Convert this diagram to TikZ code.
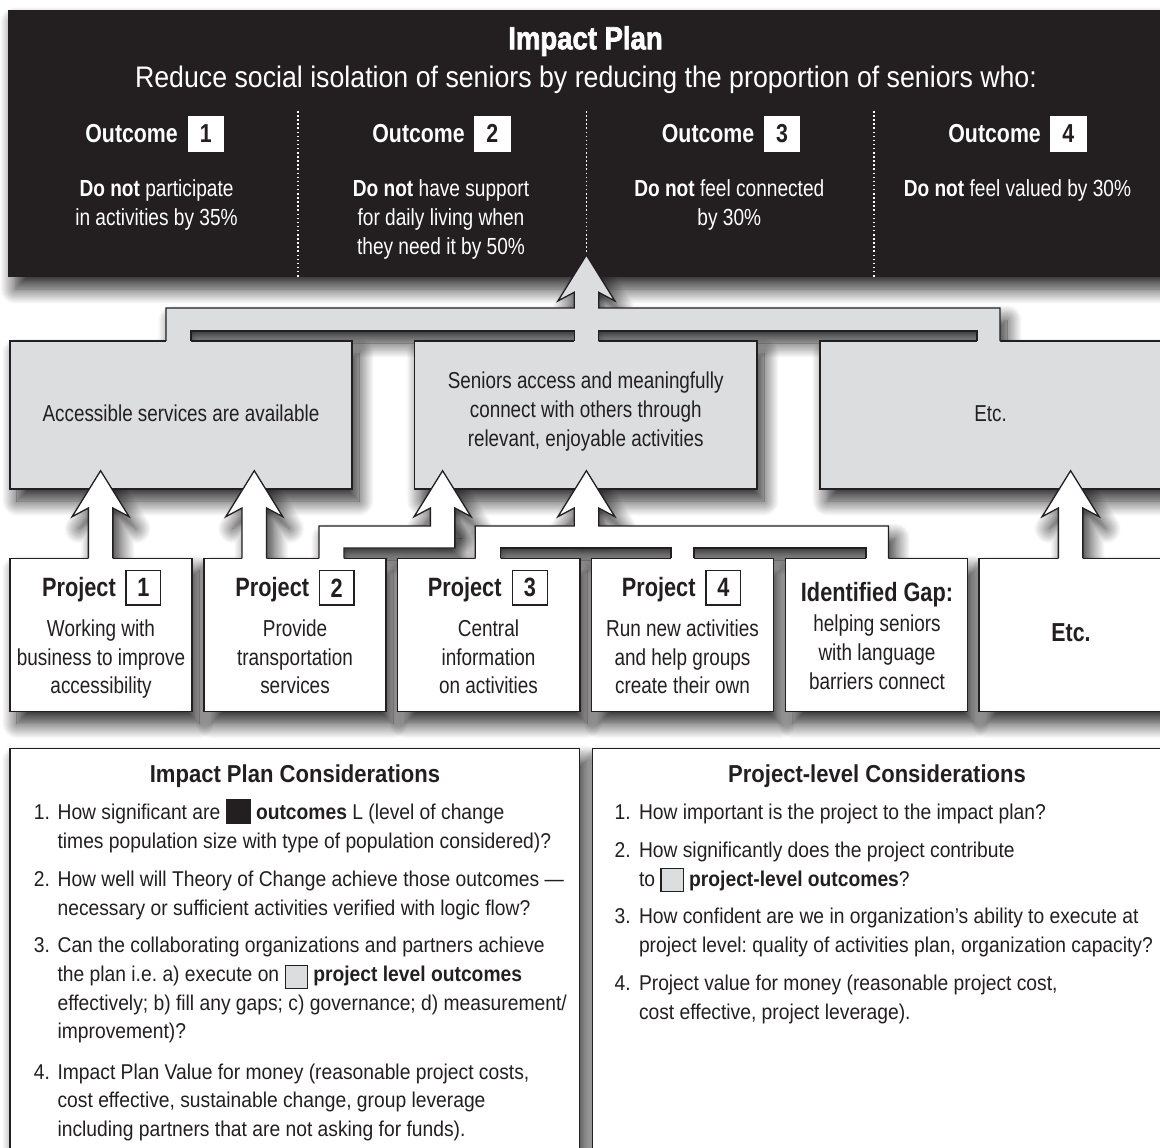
\documentclass[tikz,border=0pt]{standalone}
\usepackage{fontspec}
\setmainfont{Liberation Sans}[FakeStretch=0.82]
\newfontfamily\widefont{Liberation Sans}[FakeStretch=0.9]
\newfontfamily\heavyfont{Liberation Sans}[FakeStretch=0.86,BoldFeatures={FakeBold=2}]
\usetikzlibrary{shadows.blur}
\pgfdeclarelayer{bgl}
\pgfdeclarelayer{shadowl}
\pgfsetlayers{bgl,shadowl,main}
\definecolor{ink}{RGB}{35,31,32}
\definecolor{lgray}{RGB}{220,221,223}
\newcommand\myfs[1]{\fontsize{#1}{#1}\selectfont}
\tikzset{
 ol/.style={draw=ink,line width=1.3pt,line join=miter},
 shad/.style={blur shadow={shadow xshift=7pt,shadow yshift=-12pt,shadow blur radius=15pt,shadow blur steps=16,shadow opacity=85}},
 lbox/.style={ol,fill=lgray,anchor=north west,inner sep=0pt,outer sep=0pt},
 wbox/.style={ol,fill=white,anchor=north west,inner sep=0pt,outer sep=0pt},
 hdrbox/.style={fill=ink,anchor=north west,inner sep=0pt,outer sep=0pt},
 wtxt/.style={anchor=base,text=white,inner sep=0pt},
 txt/.style={anchor=base,text=ink,inner sep=0pt},
 ltxt/.style={anchor=base west,text=ink,inner sep=0pt,font=\widefont\myfs{21.4}},
 numw/.style={fill=white,text=ink,inner sep=0pt,minimum width=36.5pt,minimum height=35.7pt,font=\bfseries\myfs{26}},
 numb/.style={ol,fill=white,text=ink,inner sep=0pt,minimum width=34.7pt,minimum height=34.3pt,font=\bfseries\myfs{26.5}},
 divl/.style={white,line width=1.5pt,dash pattern=on 1.5pt off 2.6pt},
}
\newcommand\arrowpipe[4]{%
 \fill[#4] (#1,#2) -- (#1+28.5,#2+46) -- (#1+12.25,#2+37.3) -- (#1+12.25,#3+1.3) -- (#1-12.25,#3+1.3) -- (#1-12.25,#2+37.3) -- (#1-28.5,#2+46) -- cycle;
 \draw[ol] (#1-12.25,#3) -- (#1-12.25,#2+37.3) -- (#1-28.5,#2+46) -- (#1,#2) -- (#1+28.5,#2+46) -- (#1+12.25,#2+37.3) -- (#1+12.25,#3);}
\newcommand\arrowshadow[3]{%
 \path[shad] (#1,#2) -- (#1+28.5,#2+46) -- (#1+12.25,#2+37.3) -- (#1+12.25,#3) -- (#1-12.25,#3) -- (#1-12.25,#2+37.3) -- (#1-28.5,#2+46) -- cycle;}
\newcommand\swblack{\textcolor{ink}{\rule[-4.3pt]{25pt}{25pt}}}
\newcommand\swgray[1]{{\setlength\fboxsep{0pt}\setlength\fboxrule{1.2pt}\fcolorbox{ink}{lgray}{\rule[-#1]{0pt}{22pt}\hspace{21pt}}}}
\frenchspacing
\begin{document}
\frenchspacing
\begin{tikzpicture}[x=1pt,y=-1pt]
\useasboundingbox (0,0) rectangle (1160,1148);
\begin{pgfonlayer}{bgl}
\fill[white] (0,0) rectangle (1160,1148);
\end{pgfonlayer}
% dummy first shadow, outside the page
\path[shad] (-400,-400) rectangle (-380,-380);

% ---------- boxes ----------
\node[hdrbox,minimum width=1160pt,minimum height=267pt] (hdr) at (8,10) {};
\node[lbox,minimum width=342pt,minimum height=148pt] (bA) at (10,341) {};
\node[lbox,minimum width=342.5pt,minimum height=148pt] (bB) at (414.5,341) {};
\node[lbox,minimum width=345pt,minimum height=148pt] (bC) at (820,341) {};

\node[wbox,minimum width=182pt,minimum height=153.4pt] (p1) at (10,558.3) {};
\node[wbox,minimum width=182pt,minimum height=153.4pt] (p2) at (204,558.3) {};
\node[wbox,minimum width=182.5pt,minimum height=153.4pt] (p3) at (397.5,558.3) {};
\node[wbox,minimum width=182.2pt,minimum height=153.4pt] (p4) at (591.4,558.3) {};
\node[wbox,minimum width=181.8pt,minimum height=153.4pt] (pg) at (785.8,558.3) {};
\node[wbox,minimum width=190pt,minimum height=153.4pt] (pe) at (979,558.3) {};

\node[wbox,minimum width=569.5pt,minimum height=420pt] (cL) at (10,748.4) {};
\node[wbox,minimum width=580pt,minimum height=420pt] (cR) at (592.5,748.4) {};

% ---------- shadows ----------
\begin{pgfonlayer}{shadowl}
\path[shad] (-400,-400) rectangle (-380,-380);
\foreach \n in {hdr,bA,bB,bC,p1,p2,p3,p4,pg,pe,cL,cR}
  \path[shad] (\n.north west) rectangle (\n.south east);
\path[shad] (586.4,255) -- (614.9,301) -- (598.65,292.3) -- (598.65,308) -- (1000,308) -- (1000,341) -- (977,341) -- (977,331) -- (598.65,331) -- (598.65,341) -- (574.15,341) -- (574.15,331) -- (191,331) -- (191,341) -- (166,341) -- (166,308) -- (574.15,308) -- (574.15,292.3) -- (557.9,301) -- cycle;
\path[shad] (319,558.3) -- (319,526) -- (454.85,526) -- (454.85,548) -- (344,548) -- (344,558.3) -- cycle;
\path[shad] (475.3,558.3) -- (475.3,526) -- (888.4,526) -- (888.4,558.3) -- (866,558.3) -- (866,548) -- (500.5,548) -- (500.5,558.3) -- cycle;
\arrowshadow{100.6}{470.7}{558.3}
\arrowshadow{254.3}{470.7}{558.3}
\arrowshadow{442.6}{470.7}{526}
\arrowshadow{586.4}{470.7}{526}
\arrowshadow{1070.6}{470.7}{558.3}
\end{pgfonlayer}

% ---------- header content ----------
\draw[divl] (298,111) -- (298,277);
\draw[divl] (586.4,111) -- (586.4,277);
\draw[divl] (873.8,111) -- (873.8,277);

\node[wtxt,font=\heavyfont\bfseries\myfs{32}] (title) at (585.5,49.3) {Impact Plan};
\node[wtxt,font=\widefont\myfs{29.7}] (sub) at (586,87.3) {Reduce social isolation of seniors by reducing the proportion of seniors who:};

\node[wtxt,anchor=base east,font=\bfseries\myfs{26}] (oh1) at (178,142.7) {Outcome};
\node[numw] (on1) at (205.75,133.85) {1};
\node[wtxt,anchor=base east,font=\bfseries\myfs{26}] (oh2) at (465,142.7) {Outcome};
\node[numw] (on2) at (492.25,133.85) {2};
\node[wtxt,anchor=base east,font=\bfseries\myfs{26}] (oh3) at (754.5,142.7) {Outcome};
\node[numw] (on3) at (782,133.85) {3};
\node[wtxt,anchor=base east,font=\bfseries\myfs{26}] (oh4) at (1041,142.7) {Outcome};
\node[numw] (on4) at (1068.3,133.85) {4};

\node[wtxt,font=\myfs{23.3}] (o1a) at (156.5,196.7) {\textbf{Do not} participate};
\node[wtxt,font=\myfs{23.3}] (o1b) at (156.5,225.5) {in activities by 35\%};
\node[wtxt,font=\myfs{23.3}] (o2a) at (441,196.7) {\textbf{Do not} have support};
\node[wtxt,font=\myfs{23.3}] (o2b) at (441,225.5) {for daily living when};
\node[wtxt,font=\myfs{23.3}] (o2c) at (441,254.2) {they need it by 50\%};
\node[wtxt,font=\myfs{23.3}] (o3a) at (729.3,196.7) {\textbf{Do not} feel connected};
\node[wtxt,font=\myfs{23.3}] (o3b) at (729.3,225.5) {by 30\%};
\node[wtxt,font=\myfs{23.3}] (o4a) at (1017.4,196.7) {\textbf{Do not} feel valued by 30\%};

% ---------- top connector ----------
\fill[lgray] (586.4,255) -- (614.9,301) -- (598.65,292.3) -- (598.65,308) -- (1000,308) -- (1000,342.3) -- (977,342.3) -- (977,331) -- (598.65,331) -- (598.65,342.3) -- (574.15,342.3) -- (574.15,331) -- (191,331) -- (191,342.3) -- (166,342.3) -- (166,308) -- (574.15,308) -- (574.15,292.3) -- (557.9,301) -- cycle;
\draw[ol] (166,341) -- (166,308) -- (574.15,308) -- (574.15,292.3) -- (557.9,301) -- (586.4,255) -- (614.9,301) -- (598.65,292.3) -- (598.65,308) -- (1000,308) -- (1000,341);
\draw[ol] (191,341) -- (191,331) -- (574.15,331) -- (574.15,341);
\draw[ol] (598.65,341) -- (598.65,331) -- (977,331) -- (977,341);

% ---------- lower connectors ----------
\arrowpipe{100.6}{470.7}{558.3}{white}
\arrowpipe{254.3}{470.7}{558.3}{white}
\arrowpipe{1070.6}{470.7}{558.3}{white}

\fill[white] (442.6,470.7) -- (471.1,516.7) -- (454.85,508) -- (454.85,548) -- (344,548) -- (344,559.6) -- (319,559.6) -- (319,526) -- (430.35,526) -- (430.35,508) -- (414.1,516.7) -- cycle;
\draw[ol] (319,558.3) -- (319,526) -- (430.35,526) -- (430.35,508) -- (414.1,516.7) -- (442.6,470.7) -- (471.1,516.7) -- (454.85,508) -- (454.85,548) -- (344,548) -- (344,558.3);

\fill[white] (475.3,559.6) -- (475.3,526) -- (574.15,526) -- (574.15,508) -- (557.9,516.7) -- (586.4,470.7) -- (614.9,516.7) -- (598.65,508) -- (598.65,526) -- (888.4,526) -- (888.4,559.6) -- (866,559.6) -- (866,548) -- (694,548) -- (694,559.6) -- (671,559.6) -- (671,548) -- (500.5,548) -- (500.5,559.6) -- cycle;
\draw[ol] (475.3,558.3) -- (475.3,526) -- (574.15,526) -- (574.15,508) -- (557.9,516.7) -- (586.4,470.7) -- (614.9,516.7) -- (598.65,508) -- (598.65,526) -- (888.4,526) -- (888.4,558.3);
\draw[ol] (500.5,558.3) -- (500.5,548) -- (671,548) -- (671,558.3);
\draw[ol] (694,558.3) -- (694,548) -- (866,548) -- (866,558.3);

% ---------- row 2 texts ----------
\node[txt,font=\myfs{23}] (tA) at (181,421.7) {Accessible services are available};
\node[txt,font=\myfs{23}] (tB1) at (585.7,388.5) {Seniors access and meaningfully};
\node[txt,font=\myfs{23}] (tB2) at (585.7,417.3) {connect with others through};
\node[txt,font=\myfs{23}] (tB3) at (585.7,446.2) {relevant, enjoyable activities};
\node[txt,font=\myfs{23}] (tC) at (990.5,421) {Etc.};

% ---------- project texts ----------
\node[txt,anchor=base east,font=\bfseries\myfs{26.5}] (ph1) at (116,596) {Project};
\node[numb] (pn1) at (143.35,587.85) {1};
\node[txt,anchor=base east,font=\bfseries\myfs{26.5}] (ph2) at (309.3,596) {Project};
\node[numb] (pn2) at (336.65,587.85) {2};
\node[txt,anchor=base east,font=\bfseries\myfs{26.5}] (ph3) at (501.7,596) {Project};
\node[numb] (pn3) at (530,587.85) {3};
\node[txt,anchor=base east,font=\bfseries\myfs{26.5}] (ph4) at (695.7,596) {Project};
\node[numb] (pn4) at (723.35,587.85) {4};

\node[txt,font=\myfs{23.1}] (p1a) at (101,636.7) {Working with};
\node[txt,font=\myfs{23.1}] (p1b) at (101,665) {business to improve};
\node[txt,font=\myfs{23.1}] (p1c) at (101,693.3) {accessibility};
\node[txt,font=\myfs{23.1}] (p2a) at (295,636.7) {Provide};
\node[txt,font=\myfs{23.1}] (p2b) at (295,665) {transportation};
\node[txt,font=\myfs{23.1}] (p2c) at (295,693.3) {services};
\node[txt,font=\myfs{23.1}] (p3a) at (488.5,636.7) {Central};
\node[txt,font=\myfs{23.1}] (p3b) at (488.5,665) {information};
\node[txt,font=\myfs{23.1}] (p3c) at (488.5,693.3) {on activities};
\node[txt,font=\myfs{23.1}] (p4a) at (682.5,636.7) {Run new activities};
\node[txt,font=\myfs{23.1}] (p4b) at (682.5,665) {and help groups};
\node[txt,font=\myfs{23.1}] (p4c) at (682.5,693.3) {create their own};
\node[txt,font=\bfseries\myfs{26.5}] (pga) at (877,601.7) {Identified Gap:};
\node[txt,font=\myfs{23.1}] (pgb) at (877,631.7) {helping seniors};
\node[txt,font=\myfs{23.1}] (pgc) at (877,660.4) {with language};
\node[txt,font=\myfs{23.1}] (pgd) at (877,689) {barriers connect};
\node[txt,font=\bfseries\myfs{26}] (pea) at (1071,641.7) {Etc.};

% ---------- considerations ----------
\node[txt,font=\widefont\bfseries\myfs{24.5}] (cLt) at (295,782) {Impact Plan Considerations};
\node[ltxt] (l1n) at (33.7,819.7) {1.};
\node[ltxt] (l1a) at (57.4,819.7) {How significant are \swblack\ \textbf{outcomes} L (level of change};
\node[ltxt] (l1b) at (57.4,848) {times population size with type of population considered)?};
\node[ltxt] (l2n) at (33.7,886.7) {2.};
\node[ltxt] (l2a) at (57.4,886.7) {How well will Theory of Change achieve those outcomes —};
\node[ltxt] (l2b) at (57.4,915) {necessary or sufficient activities verified with logic flow?};
\node[ltxt] (l3n) at (33.7,952.7) {3.};
\node[ltxt] (l3a) at (57.4,952.7) {Can the collaborating organizations and partners achieve};
\node[ltxt] (l3b) at (57.4,981.8) {the plan i.e. a) execute on \swgray{6pt} \textbf{project level outcomes}};
\node[ltxt] (l3c) at (57.4,1010.6) {effectively; b) fill any gaps; c) governance; d) measurement/};
\node[ltxt] (l3d) at (57.4,1038.8) {improvement)?};
\node[ltxt] (l4n) at (33.7,1079) {4.};
\node[ltxt] (l4a) at (57.4,1079) {Impact Plan Value for money (reasonable project costs,};
\node[ltxt] (l4b) at (57.4,1107.7) {cost effective, sustainable change, group leverage};
\node[ltxt] (l4c) at (57.4,1136) {including partners that are not asking for funds).};

\node[txt,font=\widefont\bfseries\myfs{24.5}] (cRt) at (877,782) {Project-level Considerations};
\node[ltxt] (r1n) at (614.4,819.7) {1.};
\node[ltxt] (r1a) at (638.8,819.7) {How important is the project to the impact plan?};
\node[ltxt] (r2n) at (614.4,857) {2.};
\node[ltxt] (r2a) at (638.8,857) {How significantly does the project contribute};
\node[ltxt] (r2b) at (638.8,886.7) {to \swgray{4.3pt} \textbf{project-level outcomes}?};
\node[ltxt] (r3n) at (614.4,923.6) {3.};
\node[ltxt] (r3a) at (638.8,923.6) {How confident are we in organization’s ability to execute at};
\node[ltxt] (r3b) at (638.8,952.7) {project level: quality of activities plan, organization capacity?};
\node[ltxt] (r4n) at (614.4,990.5) {4.};
\node[ltxt] (r4a) at (638.8,990.5) {Project value for money (reasonable project cost,};
\node[ltxt] (r4b) at (638.8,1019.7) {cost effective, project leverage).};
\end{tikzpicture}
\end{document}
